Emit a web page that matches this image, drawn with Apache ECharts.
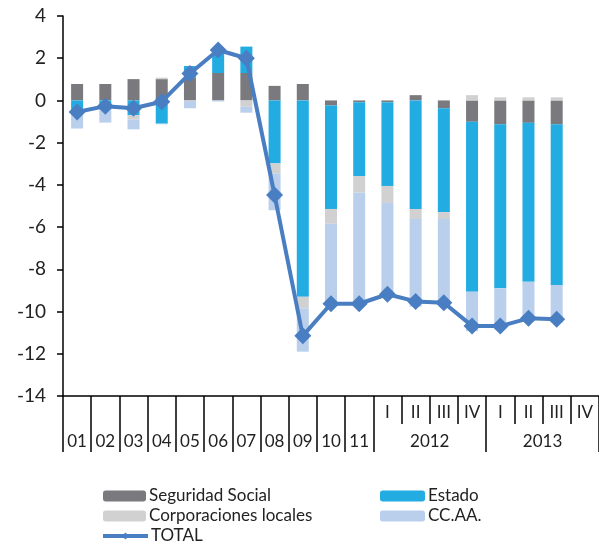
<!DOCTYPE html>
<html>
<head>
<meta charset="utf-8">
<script src="https://cdn.jsdelivr.net/npm/echarts@6/dist/echarts.min.js"></script>
<style>
html,body{margin:0;padding:0;background:#fff;}
#chart{width:599px;height:548px;}
</style>
</head>
<body>
<div id="chart"></div>
<script>
var categories = ['01','02','03','04','05','06','07','08','09','10','11',
  '2012-I','2012-II','2012-III','2012-IV','2013-I','2013-II','2013-III','2013-IV'];
var yearLabels = ['2012','2013'];
var seguridadSocial = [0.78,0.78,1.01,1.01,1.07,1.3,1.3,0.69,0.78,-0.24,-0.08,-0.08,0.25,-0.37,-1.01,-1.13,-1.06,-1.13,null];
var estado = [-0.5,-0.3,-0.7,-1.1,0.56,1.1,1.25,-2.98,-9.3,-4.9,-3.5,-3.97,-5.14,-4.92,-8.05,-7.77,-7.53,-7.61,null];
var corporaciones = [0,0,-0.2,0.07,-0.03,0,-0.3,-0.47,-0.55,-0.7,-0.79,-0.8,-0.48,-0.33,0.25,0.15,0.15,0.15,null];
var ccaa = [-0.83,-0.75,-0.47,-0.03,-0.34,-0.05,-0.28,-1.75,-2.05,-3.8,-5.26,-4.33,-4.15,-3.96,-1.87,-1.94,-1.88,-1.78,null];
var total = [-0.55,-0.27,-0.37,-0.06,1.28,2.39,2.0,-4.48,-11.15,-9.63,-9.63,-9.18,-9.52,-9.58,-10.68,-10.69,-10.32,-10.37,null];

var FONT = 'Lato';
var TXT = '#222';
var chart = echarts.init(document.getElementById('chart'), null, {renderer:'canvas'});

var longTickIdx = [0,1,2,3,4,5,6,7,8,9,10,11,15];
var shortTickIdx = [12,13,14,16,17,18];
var yearCenters = [13, 17];

var axisLineStyle = {color:'#000', width:1.5};

function legendItem(name, left, top, w, extra) {
  var l = {left:left, top:top, orient:'vertical', itemWidth:w, itemHeight:11, itemGap:0,
    data:[name], padding:0,
    textStyle:{fontFamily:FONT, fontSize:17, lineHeight:18, color:TXT, padding:[0,0,0,-2]}};
  if (extra) { for (var k in extra) l[k] = extra[k]; }
  return l;
}

var option = {
  animation:false,
  grid:{left:63, top:16, right:-10, bottom:152, containLabel:false},
  legend:[
    legendItem('Seguridad Social', 103, 487, 43),
    legendItem('Corporaciones locales', 103, 507, 43),
    legendItem('TOTAL', 101, 527, 45, {itemHeight:9, lineStyle:{width:4}}),
    legendItem('Estado', 380, 487, 45),
    legendItem('CC.AA.', 380, 507, 45)
  ],
  xAxis:[
    {type:'category', data:categories, position:'bottom', boundaryGap:true,
     axisLine:{show:true, onZero:false, lineStyle:axisLineStyle},
     axisTick:{show:true, length:28, lineStyle:axisLineStyle,
       interval:function(i){return shortTickIdx.indexOf(i) >= 0;}},
     axisLabel:{show:true, interval:0, margin:8, fontFamily:FONT, fontSize:17, color:TXT,
       formatter:function(v){var p=v.split('-'); return p.length>1 ? p[1] : '';}}},
    {type:'category', data:categories, position:'bottom', boundaryGap:true,
     axisLine:{show:false, onZero:false},
     axisTick:{show:true, length:56, lineStyle:axisLineStyle,
       interval:function(i){return longTickIdx.indexOf(i) >= 0;}},
     axisLabel:{show:true, interval:0, margin:37, fontFamily:FONT, fontSize:17, color:TXT,
       formatter:function(v){return v.indexOf('-')>=0 ? '' : v;}}},
    {type:'value', position:'bottom', min:0, max:categories.length,
     axisLine:{show:false, onZero:false}, axisTick:{show:false}, splitLine:{show:false},
     axisLabel:{show:true, margin:37, fontFamily:FONT, fontSize:17, color:TXT,
       customValues:yearCenters,
       formatter:function(v){var k=yearCenters.indexOf(v); return k>=0 ? yearLabels[k] : '';}}}
  ],
  yAxis:{type:'value', min:-14, max:4, interval:2,
    axisLine:{show:true, lineStyle:axisLineStyle},
    axisTick:{show:true, length:6, lineStyle:axisLineStyle},
    splitLine:{show:false},
    axisLabel:{margin:17, fontFamily:FONT, fontSize:19, color:TXT}},
  series:[
    {name:'Seguridad Social', type:'bar', stack:'s', data:seguridadSocial, barWidth:12,
     itemStyle:{color:'#79797e'}},
    {name:'Estado', type:'bar', stack:'s', data:estado, barWidth:12,
     itemStyle:{color:'#22ace2'}},
    {name:'Corporaciones locales', type:'bar', stack:'s', data:corporaciones, barWidth:12,
     itemStyle:{color:'#d1d1d2'}},
    {name:'CC.AA.', type:'bar', stack:'s', data:ccaa, barWidth:12,
     itemStyle:{color:'#b9cfec'}},
    {name:'TOTAL', type:'line', data:total, symbol:'diamond', symbolSize:17,
     lineStyle:{color:'#4a7ec2', width:4}, itemStyle:{color:'#4a7ec2'}, z:5}
  ]
};
chart.setOption(option);
</script>
</body>
</html>
